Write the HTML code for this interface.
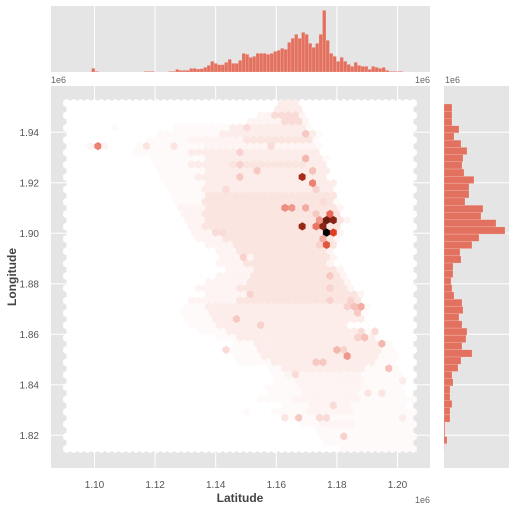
<!DOCTYPE html>
<html><head><meta charset="utf-8"><style>
html,body{margin:0;padding:0;background:#fff;}
svg{display:block;font-family:"Liberation Sans",sans-serif;}
</style></head><body>
<svg id="c" width="515" height="510" viewBox="0 0 515 510" xmlns="http://www.w3.org/2000/svg">
<rect x="51" y="6" width="379" height="66" fill="#e5e5e5"/>
<rect x="444" y="86" width="65" height="382" fill="#e5e5e5"/>
<rect x="51" y="86" width="379" height="382" fill="#e5e5e5"/>
<g id="grid"></g>
<g id="hex"></g>
<g id="tophist"></g>
<g id="righthist"></g>
<g id="labels" font-size="10" fill="#555"></g>
<text x="240" y="502" text-anchor="middle" font-size="12" font-weight="bold" fill="#444">Latitude</text>
<text x="16" y="277" text-anchor="middle" font-size="12" font-weight="bold" fill="#444" transform="rotate(-90 16 277)">Longitude</text>
<text x="51" y="83" font-size="9" fill="#666">1e6</text>
<text x="430" y="83" text-anchor="end" font-size="9" fill="#666">1e6</text>
<text x="445" y="83" font-size="9" fill="#666">1e6</text>
<text x="430" y="503" text-anchor="end" font-size="9" fill="#666">1e6</text>
</svg>
<script>
const xTicks = [1.10, 1.12, 1.14, 1.16, 1.18, 1.20];
const xTickLabels = ["1.10","1.12","1.14","1.16","1.18","1.20"];
const yTicks = [1.82, 1.84, 1.86, 1.88, 1.90, 1.92, 1.94];
const yTickLabels = ["1.82","1.84","1.86","1.88","1.90","1.92","1.94"];
// top marginal histogram: bin start, bin width, counts
const topBinStart = [1.09901];
const topBinWidth = [0.001155];
const topCounts = [11,2,0,0,0,0,0,0,0,0,0,0,0,0,0,2,2,2,0,0,0,0,2,2,8,5,5,5,11,11,9,
 10,14,20,32,26,22,22,29,38,26,26,35,56,53,44,47,56,56,56,53,56,62,65,71,68,89,101,113,101,119,113,86,74,86,113,185,95,
 56,47,32,44,32,23,17,29,20,17,17,8,17,14,11,14,5,2,2,2,2];
// right marginal histogram (top to bottom)
const rightBinTop = [1.95121];
const rightBinWidth = [0.002863];
const rightCounts = [24,24,24,45,30,51,69,57,54,60,90,75,75,63,117,111,156,183,105,84,48,51,27,27,21,24,30,54,57,45,54,69,66,54,84,51,42,24,27,18,18,24,18,18,3,3,9,1];
// hexbin counts: spans [row, colStart, colEnd, count], rows from top
const hexSpans = [
[0,31,33,3],[1,30,33,3],[2,28,34,2],[2,30,33,5],[3,26,34,2],[3,31,33,5],
[4,7,7,1],[4,16,35,1],[4,24,34,3],[4,26,26,5],
[5,13,36,1],[5,22,35,3],[5,34,34,7],
[6,12,36,1],[6,18,35,2],[6,26,35,4],
[7,3,3,2],[7,4,4,14],[7,5,5,2],[7,10,36,1],[7,11,11,4],[7,15,15,4],[7,20,35,2],[7,29,29,5],
[8,10,36,1],[8,18,36,3],[8,25,25,6],
[9,12,37,1],[9,20,36,3],[9,34,34,9],
[10,13,37,1],[10,18,37,3],[10,24,34,4],[10,25,25,6],
[11,13,37,1],[11,20,37,3],[11,27,27,7],[11,35,35,8],
[12,14,37,1],[12,19,37,3],[12,25,25,7],[12,34,34,24],
[13,14,38,1],[13,20,38,3],[13,35,35,14],
[14,15,38,1],[14,20,38,3],[14,23,23,5],[14,36,36,6],
[15,15,38,1],[15,20,38,4],
[16,16,39,1],[16,20,38,4],[16,37,37,5],
[17,16,39,2],[17,20,38,4],[17,31,31,13],[17,32,32,12],[17,34,34,10],
[18,17,39,2],[18,20,39,4],[18,38,38,16],[18,36,36,7],
[19,17,40,2],[19,20,39,4],[19,36,36,12],[19,37,37,28],[19,38,38,26],[19,39,39,4],
[20,18,39,2],[20,20,39,4],[20,34,34,25],[20,36,36,15],[20,37,37,26],
[21,18,39,2],[21,21,22,5],[21,23,38,4],[21,37,37,35],[21,38,38,20],
[22,19,39,2],[22,23,38,4],[22,37,37,10],
[23,20,38,2],[23,24,38,4],[23,36,36,6],[23,37,37,18],
[24,22,38,2],[24,25,37,4],
[25,22,38,2],[25,27,37,4],[25,25,25,6],
[26,22,38,2],[26,26,37,4],
[27,23,39,2],[27,27,38,4],
[28,22,40,2],[28,27,39,4],[28,38,38,7],
[29,20,40,2],[29,26,39,4],
[30,19,41,2],[30,25,40,4],[30,38,38,6],
[31,20,42,2],[31,26,41,4],[31,26,26,6],
[32,18,42,2],[32,25,42,4],[32,38,38,6],[32,41,41,6],
[33,17,43,1],[33,20,42,3],[33,40,40,6],[33,41,41,8],[33,42,42,10],
[34,17,43,1],[34,21,42,3],[34,42,42,7],
[35,17,42,1],[35,21,42,3],[35,24,24,7],
[36,18,40,1],[36,22,40,3],[36,28,28,6],
[37,19,44,1],[37,23,42,3],[37,42,42,5],[37,44,44,5],
[38,22,45,1],[38,25,44,3],[38,42,42,6],[38,43,43,8],
[39,24,46,1],[39,27,45,3],[39,45,45,9],
[40,23,47,1],[40,28,45,3],[40,23,23,5],[40,39,39,9],[40,40,40,6],
[41,24,47,1],[41,28,44,3],[41,40,40,12],
[42,25,47,1],[42,30,44,3],[42,36,36,7],[42,37,37,7],
[43,29,47,1],[43,31,42,3],[43,46,46,8],
[44,30,48,1],[44,32,42,2],[44,33,33,5],
[45,30,48,1],[45,33,42,2],[45,48,48,3],
[46,29,48,1],[46,34,42,2],
[47,29,48,1],[47,34,41,2],[47,43,43,4],[47,45,45,4],
[48,28,50,1],[48,33,42,2],
[49,31,48,1],[49,35,40,2],[49,38,38,5],
[50,26,26,1],[50,30,50,1],[50,35,41,2],
[51,32,50,1],[51,31,31,4],[51,33,33,7],[51,36,36,5],[51,37,37,5],[51,48,48,3],
[52,34,50,1],[52,37,41,2],
[53,36,50,1],
[54,37,50,1],[54,40,40,6],
[55,37,50,1],
[56,40,50,1]
];
const hexMax = [35];

const NS = "http://www.w3.org/2000/svg";
const L = 51, R = 430, T = 86, B = 467.7;
const xMin = 1.08564, xMax = 1.21073, yMin = 1.80717, yMax = 1.95834;
const X = v => L + (v - xMin) / (xMax - xMin) * (R - L);
const Y = v => B - (v - yMin) / (yMax - yMin) * (B - T);
function mk(tag, attrs, parent){ const e = document.createElementNS(NS, tag); for (const k in attrs) e.setAttribute(k, attrs[k]); parent.appendChild(e); return e; }

const grid = document.getElementById('grid');
const labels = document.getElementById('labels');
xTicks.forEach((t, i) => {
  const x = X(t);
  const l1 = mk('line', {x1:x, x2:x, y1:T, y2:B, stroke:'#fff', 'stroke-width':1}, grid);
  
  
  const l2 = mk('line', {x1:x, x2:x, y1:6, y2:72, stroke:'#fff', 'stroke-width':1}, grid);
  
  
  const tx = mk('text', {x:x, y:488, 'text-anchor':'middle'}, labels);
  tx.textContent = xTickLabels[i];
  
  
});
yTicks.forEach((t, i) => {
  const y = Y(t);
  const l1 = mk('line', {x1:L, x2:R, y1:y, y2:y, stroke:'#fff', 'stroke-width':1}, grid);
  
  
  const l2 = mk('line', {x1:444, x2:509, y1:y, y2:y, stroke:'#fff', 'stroke-width':1}, grid);
  
  
  const tx = mk('text', {x:39, y:y + 3.5, 'text-anchor':'end'}, labels);
  tx.textContent = yTickLabels[i];
  
  
});

function hls2rgb(h, l, s){
  const q = l < .5 ? l * (1 + s) : l + s - l * s, p = 2 * l - q;
  const f = t => { t = (t % 1 + 1) % 1; if (t < 1/6) return p + (q - p) * 6 * t; if (t < .5) return q; if (t < 2/3) return p + (q - p) * (2/3 - t) * 6; return p; };
  return 'rgb(' + [f(h + 1/3), f(h), f(h - 1/3)].map(v => Math.round(v * 255)).join(',') + ')';
}
const cmap = c => hls2rgb(8/360, 1 - Math.pow(Math.min(1, c / hexMax[0]), 1.25), 0.75);

const hexG = document.getElementById('hex');
const hxMin = 1.09086, hxMax = 1.20518, hyMax = 1.95157, hyMin = 1.81462;
const nx = 50, nRows = 57;
const counts = [];
for (let r = 0; r < nRows; r++) counts.push(new Array(r % 2 ? nx : nx + 1).fill(0));
hexSpans.forEach(s => { for (let c = s[1]; c <= s[2]; c++) if (counts[s[0]] && c < counts[s[0]].length) counts[s[0]][c] = s[3]; });
const sxPx = (X(hxMax) - X(hxMin)) / nx;
const syPx = (Y(hyMin) - Y(hyMax)) / ((nRows - 1) / 2);
for (let r = 0; r < nRows; r++) {
  const cy = Y(hyMax) + r * syPx / 2;
  counts[r].forEach((cnt, c) => {
    const cx = X(hxMin) + (c + (r % 2 ? 0.5 : 0)) * sxPx;
    const hw = sxPx / 2, tv = syPx / 3;
    const pts = [[cx + hw, cy - tv / 2], [cx + hw, cy + tv / 2], [cx, cy + tv], [cx - hw, cy + tv / 2], [cx - hw, cy - tv / 2], [cx, cy - tv]].map(p => p[0].toFixed(2) + ',' + p[1].toFixed(2)).join(' ');
    const col = cmap(cnt);
    const h = mk('polygon', {points: pts, fill: col, stroke: col, 'stroke-width': 0.4}, hexG);
    
    
  });
}

const topG = document.getElementById('tophist');
const topScale = 66 / 198;
topCounts.forEach((v, i) => {
  if (!v) return;
  const x0 = X(topBinStart[0] + i * topBinWidth[0]), x1 = X(topBinStart[0] + (i + 1) * topBinWidth[0]);
  const h = v * topScale;
  const b = mk('rect', {x: x0, y: 72 - h, width: x1 - x0, height: h, fill: '#E24A33', 'fill-opacity': 0.75, stroke: '#fff', 'stroke-opacity': 0.4, 'stroke-width': 0.4}, topG);
  
  
});
const rG = document.getElementById('righthist');
const rScale = 65 / 195;
rightCounts.forEach((v, i) => {
  const y0 = Y(rightBinTop[0] - i * rightBinWidth[0]), y1 = Y(rightBinTop[0] - (i + 1) * rightBinWidth[0]);
  const w = v * rScale;
  const b = mk('rect', {x: 444, y: y0, width: w, height: y1 - y0, fill: '#E24A33', 'fill-opacity': 0.75, stroke: '#fff', 'stroke-opacity': 0.4, 'stroke-width': 0.4}, rG);
  
  
});
</script>
</body></html>
